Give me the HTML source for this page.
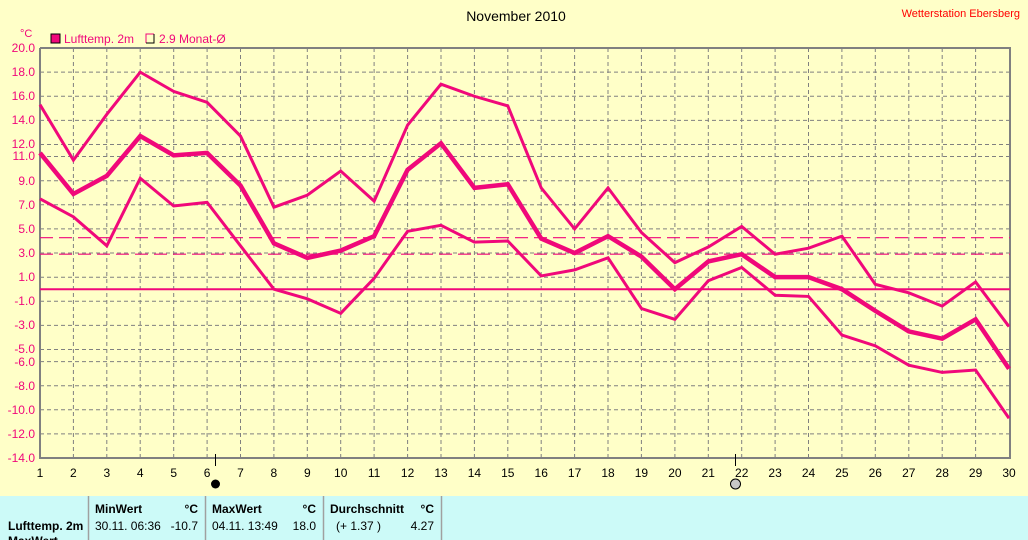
<!DOCTYPE html>
<html><head><meta charset="utf-8"><style>
body{margin:0;width:1028px;height:540px;overflow:hidden;background:#ffffc8;font-family:"Liberation Sans",sans-serif}
svg{position:absolute;left:0;top:0}
</style></head><body>
<svg width="1028" height="540" xmlns="http://www.w3.org/2000/svg" font-family="Liberation Sans, sans-serif">
<rect width="1028" height="540" fill="#ffffc8"/>
<text x="516" y="21" font-size="14" text-anchor="middle" fill="#000">November 2010</text>
<text x="1020" y="17" font-size="11" text-anchor="end" fill="#ff0000">Wetterstation Ebersberg</text>
<text x="20" y="37" font-size="11" fill="#f0087a">°C</text>
<rect x="51" y="34" width="9" height="9" fill="#f0087a" stroke="#000" stroke-width="1"/>
<text x="64" y="43" font-size="12" fill="#f0087a">Lufttemp. 2m</text>
<path d="M146 43V34H154" fill="none" stroke="#f0087a" stroke-width="1"/>
<path d="M154 34V43H146" fill="none" stroke="#000" stroke-width="1"/>
<text x="159" y="43" font-size="12" fill="#f0087a">2.9 Monat-Ø</text>
<g stroke="#808080" stroke-width="1" stroke-dasharray="4,3">
<path d="M73.4 48V458M106.8 48V458M140.2 48V458M173.7 48V458M207.1 48V458M240.5 48V458M273.9 48V458M307.3 48V458M340.7 48V458M374.1 48V458M407.6 48V458M441 48V458M474.4 48V458M507.8 48V458M541.2 48V458M574.6 48V458M608 48V458M641.4 48V458M674.9 48V458M708.3 48V458M741.7 48V458M775.1 48V458M808.5 48V458M841.9 48V458M875.3 48V458M908.8 48V458M942.2 48V458M975.6 48V458"/>
<path d="M40 72.1H1010M40 96.2H1010M40 120.4H1010M40 144.5H1010M40 156.5H1010M40 180.7H1010M40 204.8H1010M40 228.9H1010M40 253H1010M40 277.2H1010M40 301.3H1010M40 325.4H1010M40 349.5H1010M40 361.6H1010M40 385.7H1010M40 409.8H1010M40 433.9H1010"/>
</g>
<g fill="#f0087a" font-size="12" text-anchor="end">
<text x="35" y="52">20.0</text><text x="35" y="76">18.0</text><text x="35" y="100">16.0</text><text x="35" y="124">14.0</text><text x="35" y="148">12.0</text><text x="35" y="160">11.0</text><text x="35" y="185">9.0</text><text x="35" y="209">7.0</text><text x="35" y="233">5.0</text><text x="35" y="257">3.0</text><text x="35" y="281">1.0</text><text x="35" y="305">-1.0</text><text x="35" y="329">-3.0</text><text x="35" y="353">-5.0</text><text x="35" y="366">-6.0</text><text x="35" y="390">-8.0</text><text x="35" y="414">-10.0</text><text x="35" y="438">-12.0</text><text x="35" y="462">-14.0</text>
</g>
<g fill="#000" font-size="12" text-anchor="middle">
<text x="40" y="477">1</text><text x="73.4" y="477">2</text><text x="106.8" y="477">3</text><text x="140.2" y="477">4</text><text x="173.7" y="477">5</text><text x="207.1" y="477">6</text><text x="240.5" y="477">7</text><text x="273.9" y="477">8</text><text x="307.3" y="477">9</text><text x="340.7" y="477">10</text><text x="374.1" y="477">11</text><text x="407.6" y="477">12</text><text x="441" y="477">13</text><text x="474.4" y="477">14</text><text x="507.8" y="477">15</text><text x="541.2" y="477">16</text><text x="574.6" y="477">17</text><text x="608" y="477">18</text><text x="641.4" y="477">19</text><text x="674.9" y="477">20</text><text x="708.3" y="477">21</text><text x="741.7" y="477">22</text><text x="775.1" y="477">23</text><text x="808.5" y="477">24</text><text x="841.9" y="477">25</text><text x="875.3" y="477">26</text><text x="908.8" y="477">27</text><text x="942.2" y="477">28</text><text x="975.6" y="477">29</text><text x="1009" y="477">30</text>
</g>
<path d="M40 48V458H1010V48H40" fill="none" stroke="#808080" stroke-width="2"/>
<path d="M215.5 454V466M735.5 454V466" stroke="#000" stroke-width="1"/>
<circle cx="215.5" cy="484" r="4.5" fill="#000"/>
<circle cx="735.5" cy="484" r="5" fill="#c8c8c8" stroke="#000" stroke-width="1"/>
<g fill="none" stroke="#f0087a">
<path d="M40 289.2H1010" stroke-width="2"/>
<path d="M40 237.7H1010" stroke-width="1.2" stroke-dasharray="13,6"/>
<path d="M40 254.2H1010" stroke-width="1.2" stroke-dasharray="13,6"/>
<g transform="translate(6.586 289.2) scale(33.414 -12.059)" stroke-linejoin="miter">
<polyline vector-effect="non-scaling-stroke" stroke-width="3" points="1,15.3 2,10.7 3,14.5 4,18 5,16.4 6,15.5 7,12.7 8,6.8 9,7.8 10,9.8 11,7.3 12,13.6 13,17 14,16 15,15.2 16,8.4 17,5.0 18,8.4 19,4.7 20,2.2 21,3.5 22,5.2 23,2.9 24,3.4 25,4.4 26,0.4 27,-0.3 28,-1.4 29,0.6 30,-3.1"/>
<polyline vector-effect="non-scaling-stroke" stroke-width="4.5" points="1,11.3 2,7.9 3,9.4 4,12.7 5,11.1 6,11.3 7,8.6 8,3.8 9,2.6 10,3.2 11,4.4 12,9.9 13,12.1 14,8.4 15,8.7 16,4.2 17,3.0 18,4.4 19,2.7 20,0.0 21,2.3 22,2.9 23,1.0 24,1.0 25,0.0 26,-1.8 27,-3.5 28,-4.1 29,-2.5 30,-6.6"/>
<polyline vector-effect="non-scaling-stroke" stroke-width="3" points="1,7.5 2,6.0 3,3.6 4,9.2 5,6.9 6,7.2 7,3.6 8,0.0 9,-0.8 10,-2.0 11,0.9 12,4.8 13,5.3 14,3.9 15,4.0 16,1.1 17,1.6 18,2.6 19,-1.6 20,-2.5 21,0.7 22,1.8 23,-0.5 24,-0.6 25,-3.8 26,-4.7 27,-6.3 28,-6.9 29,-6.7 30,-10.7"/>
</g>
</g>
<rect x="0" y="496" width="1028" height="44" fill="#ccfaf8"/>
<g stroke="#a0a0a0" stroke-width="1.5"><path d="M88.5 496V540M205.5 496V540M323.5 496V540M441.5 496V540"/></g>
<g font-size="12" fill="#000">
<text x="95" y="513" font-weight="bold">MinWert</text><text x="198" y="513" text-anchor="end" font-weight="bold">°C</text>
<text x="212" y="513" font-weight="bold">MaxWert</text><text x="316" y="513" text-anchor="end" font-weight="bold">°C</text>
<text x="330" y="513" font-weight="bold">Durchschnitt</text><text x="434" y="513" text-anchor="end" font-weight="bold">°C</text>
<text x="8" y="530" font-weight="bold">Lufttemp. 2m</text>
<text x="95" y="530">30.11.  06:36</text><text x="198" y="530" text-anchor="end">-10.7</text>
<text x="212" y="530">04.11.  13:49</text><text x="316" y="530" text-anchor="end">18.0</text>
<text x="336" y="530">(+ 1.37 )</text><text x="434" y="530" text-anchor="end">4.27</text>
<text x="8" y="545" font-weight="bold">MaxWert</text>
</g>
</svg>
</body></html>
